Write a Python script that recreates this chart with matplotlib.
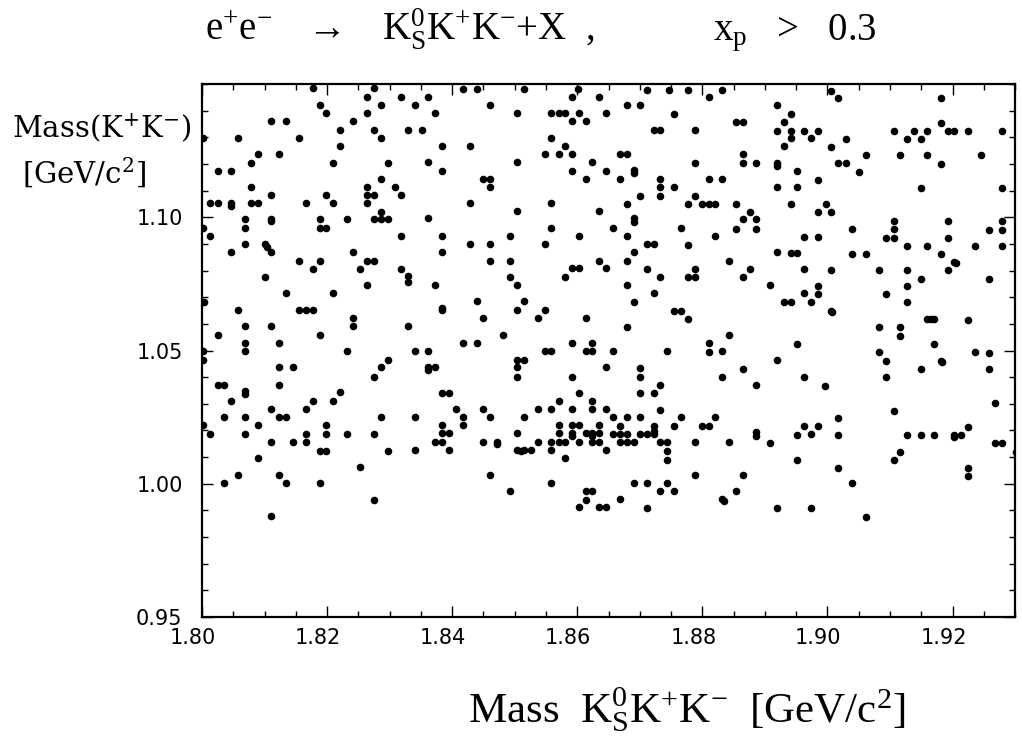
import matplotlib.pyplot as plt
from matplotlib.ticker import MultipleLocator
from matplotlib.transforms import ScaledTranslation

# scatter: (Mass(K+K-), [Mass KsK+K- ...]) row by row
rows_a = [
    (1.1485, [1.8177, 1.8275]), (1.1451, [1.8264, 1.8318]), (1.1420, [1.8188, 1.8286]),
    (1.1391, [1.8198, 1.8264]), (1.1360, [1.8111, 1.8134, 1.8242]), (1.1328, [1.8221, 1.8275]),
    (1.1298, [1.8002, 1.8058, 1.8155, 1.8286]), (1.1267, [1.8221]), (1.1238, [1.8090, 1.8123]),
    (1.1204, [1.8079, 1.8210, 1.8297]), (1.1174, [1.8025, 1.8046]), (1.1144, [1.8286]),
    (1.1113, [1.8079, 1.8264, 1.8308]), (1.1084, [1.8111, 1.8198, 1.8264, 1.8275, 1.8318]),
    (1.1054, [1.8013, 1.8025, 1.8046, 1.8079, 1.8090, 1.8166, 1.8210, 1.8264]),
    (1.1044, [1.8046]), (1.1021, [1.8286]),
    (1.0994, [1.8068, 1.8111, 1.8188, 1.8231, 1.8275, 1.8286, 1.8297]), (1.0985, [1.8111]),
    (1.0960, [1.8002, 1.8068, 1.8188, 1.8198]), (1.0929, [1.8013, 1.8318]),
    (1.0898, [1.8068, 1.8101]), (1.0890, [1.8104]), (1.0868, [1.8046, 1.8111, 1.8242]),
    (1.0837, [1.8155, 1.8188, 1.8264, 1.8275]), (1.0806, [1.8177, 1.8253, 1.8318]),
    (1.0777, [1.8101]), (1.0746, [1.8264]), (1.0714, [1.8134, 1.8210]),
    (1.0683, [1.8000, 1.8003]), (1.0653, [1.8058, 1.8155, 1.8166, 1.8177]),
    (1.0623, [1.8242]), (1.0591, [1.8068, 1.8111, 1.8242]), (1.0560, [1.8025, 1.8188]),
    (1.0529, [1.8068, 1.8123]), (1.0497, [1.8002, 1.8068, 1.8231]), (1.0466, [1.8002, 1.8297]),
    (1.0437, [1.8123, 1.8145, 1.8286]), (1.0402, [1.8275]), (1.0372, [1.8025, 1.8035, 1.8123]),
    (1.0347, [1.8068]), (1.0343, [1.8221]), (1.0337, [1.8068]),
    (1.0312, [1.8046, 1.8177, 1.8210]), (1.0281, [1.8111, 1.8166]),
    (1.0249, [1.8035, 1.8068, 1.8123, 1.8134, 1.8286]), (1.0219, [1.8002, 1.8090, 1.8198]),
    (1.0187, [1.8013, 1.8068, 1.8166, 1.8198, 1.8231, 1.8275]),
    (1.0158, [1.8111, 1.8145, 1.8166]), (1.0124, [1.8188, 1.8198, 1.8297]),
    (1.0095, [1.8090]), (1.0064, [1.8253]), (1.0034, [1.8058, 1.8123]),
    (1.0004, [1.8035, 1.8134, 1.8188]), (0.9940, [1.8275]), (0.9880, [1.8111]),
]

rows_b = [
    (1.1480, [1.8417, 1.8439, 1.8515, 1.8601]), (1.1451, [1.8362, 1.8592, 1.8635]),
    (1.1420, [1.8341, 1.8461]),
    (1.1391, [1.8373, 1.8504, 1.8558, 1.8570, 1.8581, 1.8602, 1.8646]),
    (1.1360, [1.8592, 1.8614]), (1.1328, [1.8330, 1.8352]), (1.1298, [1.8558]),
    (1.1269, [1.8384, 1.8428, 1.8581]), (1.1238, [1.8548, 1.8570, 1.8592]),
    (1.1207, [1.8362, 1.8504, 1.8624]), (1.1174, [1.8384, 1.8592, 1.8646]),
    (1.1144, [1.8450, 1.8461, 1.8614]), (1.1113, [1.8461]), (1.1054, [1.8428, 1.8558]),
    (1.1024, [1.8504, 1.8635]), (1.0996, [1.8362]), (1.0960, [1.8558]),
    (1.0929, [1.8384, 1.8493, 1.8602]), (1.0898, [1.8428, 1.8461, 1.8548]),
    (1.0868, [1.8384]), (1.0837, [1.8461, 1.8493, 1.8635]),
    (1.0808, [1.8592, 1.8602, 1.8646]), (1.0781, [1.8330]), (1.0777, [1.8493, 1.8581]),
    (1.0756, [1.8330]), (1.0746, [1.8373, 1.8504]), (1.0687, [1.8439, 1.8515]),
    (1.0660, [1.8384]), (1.0653, [1.8384, 1.8504, 1.8548]),
    (1.0623, [1.8450, 1.8537, 1.8614]), (1.0591, [1.8330]), (1.0560, [1.8482]),
    (1.0529, [1.8417, 1.8439, 1.8592, 1.8624]),
    (1.0497, [1.8341, 1.8362, 1.8548, 1.8558, 1.8614, 1.8624]), (1.0466, [1.8504, 1.8515]),
    (1.0437, [1.8362, 1.8373, 1.8504, 1.8646]), (1.0427, [1.8362]),
    (1.0402, [1.8504, 1.8592]), (1.0342, [1.8384, 1.8395, 1.8602]),
    (1.0312, [1.8570, 1.8624]),
    (1.0281, [1.8406, 1.8450, 1.8537, 1.8558, 1.8592, 1.8624, 1.8646]),
    (1.0249, [1.8341, 1.8417, 1.8461, 1.8515]),
    (1.0219, [1.8384, 1.8417, 1.8570, 1.8592, 1.8602, 1.8635]),
    (1.0189, [1.8384, 1.8395, 1.8504, 1.8570, 1.8592, 1.8614, 1.8624, 1.8635]),
    (1.0180, [1.8592, 1.8624]),
    (1.0158, [1.8373, 1.8384, 1.8450, 1.8471, 1.8537, 1.8558, 1.8570, 1.8581, 1.8602,
              1.8624, 1.8635]),
    (1.0149, [1.8471]),
    (1.0127, [1.8341, 1.8395, 1.8504, 1.8515, 1.8526, 1.8558, 1.8646]),
    (1.0122, [1.8510]), (1.0095, [1.8581]), (1.0034, [1.8461]), (1.0004, [1.8558]),
    (0.9974, [1.8493, 1.8614, 1.8624]), (0.9940, [1.8614]),
    (0.9911, [1.8602, 1.8635, 1.8646]),
]

rows_c = [
    (1.1478, [1.8712, 1.8746, 1.8777, 1.8832]), (1.1451, [1.8810]),
    (1.1420, [1.8680, 1.8701, 1.8919]), (1.1389, [1.8755, 1.8941]),
    (1.1358, [1.8854, 1.8865, 1.8930]), (1.1328, [1.8722, 1.8733, 1.8788]),
    (1.1325, [1.8919, 1.8941, 1.8963]), (1.1296, [1.8941, 1.8974]), (1.1267, [1.8930]),
    (1.1237, [1.8669, 1.8680, 1.8865]), (1.1204, [1.8788, 1.8865, 1.8886, 1.8919]),
    (1.1194, [1.8919]), (1.1178, [1.8690]), (1.1172, [1.8952]), (1.1166, [1.8690]),
    (1.1144, [1.8669, 1.8733]), (1.1142, [1.8810, 1.8832]),
    (1.1113, [1.8733, 1.8755, 1.8919, 1.8952]), (1.1081, [1.8701, 1.8733, 1.8788]),
    (1.1051, [1.8680, 1.8777, 1.8799, 1.8810, 1.8821, 1.8854, 1.8941]),
    (1.1021, [1.8876]), (1.0999, [1.8690]), (1.0992, [1.8865, 1.8886]), (1.0984, [1.8690]),
    (1.0960, [1.8657, 1.8766]), (1.0956, [1.8854, 1.8886]), (1.0929, [1.8680, 1.8821]),
    (1.0925, [1.8963]), (1.0898, [1.8712, 1.8722]), (1.0895, [1.8777]),
    (1.0868, [1.8690, 1.8919]), (1.0865, [1.8941, 1.8952]), (1.0837, [1.8680, 1.8843]),
    (1.0806, [1.8712, 1.8788, 1.8876, 1.8963]), (1.0777, [1.8733, 1.8777, 1.8788, 1.8865]),
    (1.0746, [1.8680, 1.8908]), (1.0714, [1.8722, 1.8963]),
    (1.0683, [1.8690, 1.8930, 1.8941, 1.8974]), (1.0650, [1.8755, 1.8766]),
    (1.0620, [1.8777]), (1.0590, [1.8680]), (1.0559, [1.8843]), (1.0528, [1.8810]),
    (1.0525, [1.8952]), (1.0497, [1.8657, 1.8744, 1.8832]), (1.0495, [1.8810]),
    (1.0465, [1.8919]), (1.0435, [1.8701]), (1.0432, [1.8865]),
    (1.0400, [1.8701, 1.8832, 1.8963]), (1.0372, [1.8733]), (1.0370, [1.8886]),
    (1.0341, [1.8701, 1.8722]), (1.0278, [1.8733]),
    (1.0249, [1.8657, 1.8680, 1.8701, 1.8766, 1.8821]),
    (1.0217, [1.8669, 1.8722, 1.8755, 1.8799, 1.8810, 1.8963]),
    (1.0199, [1.8722]), (1.0193, [1.8886]),
    (1.0187, [1.8657, 1.8669, 1.8680, 1.8701, 1.8712, 1.8722, 1.8974]),
    (1.0184, [1.8952]), (1.0180, [1.8886]),
    (1.0157, [1.8669, 1.8680, 1.8690, 1.8733, 1.8744, 1.8788, 1.8843]),
    (1.0154, [1.8908]), (1.0124, [1.8744]), (1.0091, [1.8744, 1.8952]),
    (1.0034, [1.8788, 1.8865]), (1.0001, [1.8690, 1.8712, 1.8744]),
    (0.9971, [1.8733, 1.8755, 1.8854]), (0.9941, [1.8669, 1.8832]), (0.9935, [1.8835]),
    (0.9909, [1.8712, 1.8919, 1.8974]),
]

rows_d = [
    (1.1475, [1.9006]), (1.1447, [1.9017, 1.9181]), (1.1355, [1.9181]),
    (1.1325, [1.8985, 1.9106, 1.9138, 1.9160, 1.9192, 1.9203]), (1.1322, [1.9225, 1.9279]),
    (1.1295, [1.9029, 1.9127, 1.9149]), (1.1263, [1.9006]),
    (1.1232, [1.9061, 1.9116, 1.9160, 1.9246]), (1.1202, [1.9017, 1.9029]),
    (1.1199, [1.9181]), (1.1169, [1.9050]), (1.1141, [1.8985]), (1.1109, [1.9149, 1.9279]),
    (1.1049, [1.8997]), (1.1018, [1.8985, 1.9006]), (1.0987, [1.9106, 1.9192, 1.9279]),
    (1.0956, [1.9039, 1.9106]), (1.0954, [1.9258, 1.9279]), (1.0926, [1.8985]),
    (1.0924, [1.9094, 1.9106, 1.9192]), (1.0893, [1.9127, 1.9160, 1.9236, 1.9279]),
    (1.0863, [1.9039, 1.9061, 1.9181]), (1.0833, [1.9203]), (1.0828, [1.9206]),
    (1.0803, [1.9006, 1.9083, 1.9127, 1.9192]), (1.0770, [1.9149, 1.9258]),
    (1.0743, [1.8985]), (1.0741, [1.9127]), (1.0712, [1.8985, 1.9094]), (1.0683, [1.9127]),
    (1.0650, [1.9006]), (1.0645, [1.9008]), (1.0617, [1.9160, 1.9165, 1.9171]),
    (1.0615, [1.9225]), (1.0588, [1.9083, 1.9116]), (1.0556, [1.9116]), (1.0523, [1.9171]),
    (1.0494, [1.9083, 1.9236]), (1.0492, [1.9258]), (1.0462, [1.9094, 1.9181]),
    (1.0457, [1.9183]), (1.0431, [1.9149, 1.9258]), (1.0400, [1.9094]), (1.0368, [1.8996]),
    (1.0303, [1.9268]), (1.0274, [1.9106]), (1.0246, [1.9017]), (1.0217, [1.8985]),
    (1.0214, [1.9225]), (1.0184, [1.9017, 1.9127, 1.9149, 1.9171, 1.9203, 1.9214]),
    (1.0177, [1.9203]), (1.0152, [1.9268, 1.9279]), (1.0120, [1.9116, 1.9301]),
    (1.0089, [1.9106]), (1.0061, [1.9017]), (1.0059, [1.9225]), (1.0030, [1.9225]),
    (1.0001, [1.9039]), (0.9876, [1.9061]),
]

x_ticks = [1.80, 1.82, 1.84, 1.86, 1.88, 1.90, 1.92]
y_ticks = [0.95, 1.00, 1.05, 1.10]

m_kskk = []
m_kk = []
for rows in [rows_a, rows_b, rows_c, rows_d]:
    for yv, xlist in rows:
        for xv in xlist:
            m_kskk.append(xv)
            m_kk.append(yv)

plt.rcParams['mathtext.fontset'] = 'custom'
plt.rcParams['mathtext.rm'] = 'Liberation Serif'
plt.rcParams['mathtext.it'] = 'Liberation Serif'
plt.rcParams['mathtext.fallback'] = 'stix'

fig = plt.figure(figsize=(10.22, 7.46), dpi=100)
ax = fig.add_axes([0.1977, 0.1729, 0.7955, 0.7145])

ax.scatter(m_kskk, m_kk, s=30, c='black', marker='o', linewidths=0)

ax.set_xlim(1.80, 1.93)
ax.set_ylim(0.95, 1.15)
ax.set_xticks(x_ticks)
ax.set_xticklabels(['%.2f' % v for v in x_ticks])
ax.set_yticks(y_ticks)
ax.set_yticklabels(['%.2f' % v for v in y_ticks])
ax.xaxis.set_minor_locator(MultipleLocator(0.005))
ax.yaxis.set_minor_locator(MultipleLocator(0.01))
ax.tick_params(which='both', direction='in', top=True, right=True, width=1.0)
ax.tick_params(which='major', length=8, labelsize=15)
ax.tick_params(which='minor', length=4)
ax.tick_params(axis='y', pad=14)
ax.tick_params(axis='x', pad=8)
for sp in ax.spines.values():
    sp.set_linewidth(1.6)

# labels in the scan sit a little left of their ticks
shift = ScaledTranslation(-0.09, 0, fig.dpi_scale_trans)
for lab in ax.get_xticklabels():
    lab.set_transform(lab.get_transform() + shift)

serif = 'Liberation Serif'
fig.text(205 / 1022, 1 - 40 / 746,
         r'e$^{+}$e$^{-}$   $\rightarrow$   K$^{0}_{\mathrm{S}}$K$^{+}$K$^{-}$+X  ,',
         fontsize=28, family=serif, ha='left', va='baseline')
fig.text(713 / 1022, 1 - 40 / 746, r'x$_{\mathrm{p}}$   >   0.3',
         fontsize=28, family=serif, ha='left', va='baseline')

fig.text(12 / 1022, 1 - 128 / 746, r'Mass(K$^{+}$K$^{-}$)',
         fontsize=21, family='DejaVu Serif', ha='left', va='center',
         math_fontfamily='dejavuserif')
fig.text(22 / 1022, 1 - 173 / 746, r'[GeV/c$^{2}$]',
         fontsize=21, family='DejaVu Serif', ha='left', va='center',
         math_fontfamily='dejavuserif')

fig.text(468 / 1022, 1 - 722 / 746,
         r'Mass  K$^{0}_{\mathrm{S}}$K$^{+}$K$^{-}$  [GeV/c$^{2}$]',
         fontsize=31, family=serif, ha='left', va='baseline')

fig.savefig('out.png', dpi=100)
